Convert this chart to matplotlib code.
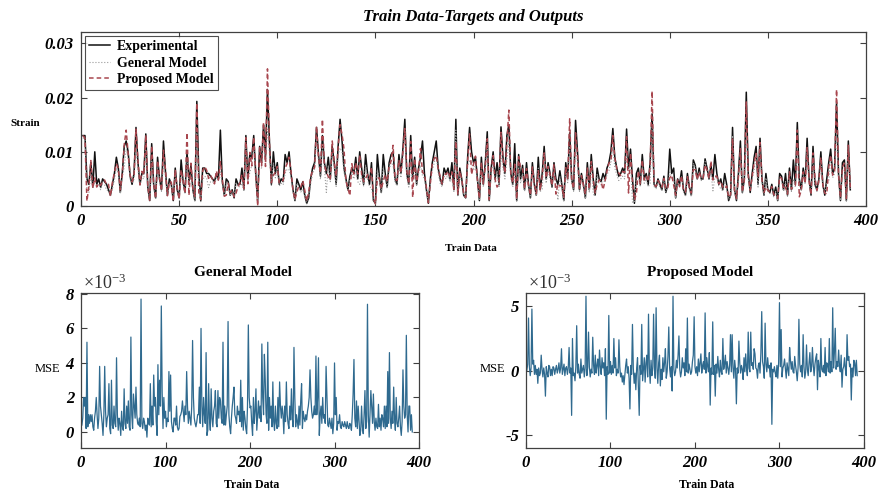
import numpy as np
import matplotlib
matplotlib.use('Agg')
import matplotlib.pyplot as plt

# strain values, in units of 1e-3 (one value per train sample)
experimental = [
    13, 13, 5, 4, 8, 3.5, 10, 4, 5, 3.5,
    5, 4.5, 4, 3, 2, 4, 6, 9, 7, 2.5,
    6, 11, 12, 10, 5.5, 4, 6, 14.5, 8, 4,
    6, 6, 13.3, 3.5, 1, 11.5, 4, 1.5, 9, 5,
    3, 12, 6.5, 2, 5, 4, 1, 7, 3, 1.5,
    8.5, 4.5, 2.5, 10, 4.5, 7.5, 3, 1, 19.3, 6,
    1, 7, 7, 6, 6, 5.5, 5, 4.5, 6, 5,
    14, 4.5, 2, 5, 4.5, 2, 3, 1.5, 5, 4,
    4, 7, 3, 13, 5, 9.5, 9, 13, 6, 1,
    11, 8, 15, 9, 21.5, 12, 4, 10, 6, 8,
    4, 5, 4.5, 9.5, 8, 10, 6, 3, 1, 5,
    4, 3, 4.5, 2, 0.5, 1.5, 5, 7, 8, 14.5,
    9.5, 5.5, 13, 8, 6, 9, 5, 11, 8, 4,
    11, 16, 12, 7, 5, 3, 5.5, 7, 6, 9,
    5, 10, 7, 4, 9.5, 6, 4, 8, 1, 0.5,
    9.5, 5.5, 2.5, 9.5, 6, 3.5, 8, 9.5, 10, 5,
    4, 9.5, 6, 10.5, 16, 6, 4, 13, 5, 9,
    4, 7, 9, 12, 6, 3, 0.5, 5, 8, 10,
    12, 7, 5, 4, 7, 6, 7, 5, 8, 3,
    16, 2, 7, 5, 2, 1.5, 9, 14.5, 10, 8,
    9, 5, 1, 9, 4, 8, 13.7, 1, 7, 10,
    5, 8, 4, 14.6, 9, 6, 13, 15, 6, 4,
    11.5, 1, 9.5, 5, 7.5, 3, 8, 4, 1.5, 8,
    4, 2, 9, 3, 6, 11, 5, 8, 6, 3.5,
    8, 5, 4, 6.5, 4, 1, 8, 5, 13.5, 5,
    3, 15.8, 10, 3, 6, 4, 1.5, 8, 3, 9.5,
    5, 2, 7, 5, 4.5, 6, 5, 7, 8, 10,
    14.3, 9, 7, 5.5, 6, 7, 6, 14.2, 7, 10.5,
    5, 0.5, 6, 7, 4, 9.5, 5, 6, 4, 8,
    17, 4, 3.5, 5, 4, 3, 5.5, 2.5, 4, 10.5,
    6, 7, 1.5, 5, 4, 6.5, 3, 2, 6, 3.5,
    2, 8.5, 7.5, 5, 7, 5, 5, 8.7, 7, 5,
    7.5, 5, 9.5, 6, 4, 5, 3, 6, 4, 1,
    2, 14.5, 3, 1, 6, 12, 2.5, 5, 21, 6,
    2.5, 6, 9, 11, 4, 12.5, 5, 2, 6, 3,
    2.5, 4, 2, 3.5, 1, 6, 5.5, 3, 6, 2,
    7, 3, 8.5, 4, 15.4, 5, 3, 7, 4.5, 12.5,
    5, 2, 11, 4, 3, 5, 10, 4, 2, 5,
    8, 10.5, 6, 7, 19.2, 6, 1, 8, 8.5, 1,
    12, 3,
]

# target minus output of the general model (1e-3)
general_err = [
    0.4, 0.8, 2, 1.5, 2, 0.2, 5.2, 0.3, 1, 0.5,
    1, 0.6, 1, 0.3, 0.1, 0.8, 1.2, 2, 1, 0.2,
    0.8, 3.8, 1.5, 1, 0.5, -0.2, 1, 3.8, 1.2, 0.3,
    0.8, 1, 2.8, 0.2, -0.1, 3, 0.4, 0.2, 1.5, 0.5,
    0.3, 4.3, 1, 0.1, 0.8, 0.5, -0.2, 1.2, 0.3, 0.1,
    2.5, 0.5, 0.2, 1.5, 0.5, 1.8, 0.3, 0.1, 5.5, 1,
    0.2, 2.2, 1.5, 0.8, 2.6, 1, 0.5, 0.4, 0.8, 0.3,
    7.7, 0.5, 0.2, 0.8, 0.6, 0.1, 0.4, -0.3, 0.8, 0.5,
    0.4, 2.8, 0.3, 1.5, 0.4, 3.3, 1.5, 2, 0.6, -0.2,
    3.9, 1, 3, 1.5, 7.3, 2.3, 0.2, 2, 0.8, 1.2,
    0.3, 0.8, 0.6, 3.5, 1.2, 3.3, 0.6, 0.2, 0, 0.8,
    0.8, 0.4, 1.5, 0.3, 0.1, 0.2, 0.9, 1, 1.2, 1.8,
    1.2, 0.6, 1.5, 1, 3.5, 1.5, 0.5, 1.2, 0.8, 0.4,
    1.5, 5.3, 2, 0.8, 0.5, 0.3, 0.6, 1, 1, 2.6,
    0.5, 6, 1.5, 0.3, 2, 1, 0.5, 4.6, -0.2, 0.1,
    2.8, 0.8, 0.1, 2.5, 0.8, 0.3, 1.2, 1.5, 2.4, 0.5,
    0.3, 2.4, 0.8, 2, 1.8, 0.8, 0.5, 5.2, 0.4, 1.5,
    0.4, 1, 1.5, 6.4, 1, 0.3, -0.1, 0.8, 1.5, 2,
    2.6, 1, 0.8, 0.5, 1.5, 1, 1.2, 0.6, 3, 0.3,
    2, 0.1, 1.2, 0.8, 0.2, -0.1, 1.5, 6.2, 2, 1.4,
    1.5, 0.5, -0.2, 2, 0.5, 1.2, 2.5, 0.1, 1, 1.8,
    0.8, 1.5, 0.6, 5.1, 2, 1, 4.5, 3, 1, 0.5,
    5.2, 0.1, 2, 0.8, 1.5, 0.3, 2.9, 0.6, 0.1, 1.5,
    0.5, 0.2, 2, 0.3, 2.9, 1.5, 0.8, 1.5, 1, -0.1,
    1.5, 0.6, 2.9, 1, 0.5, 0.2, 1.5, 0.7, 2.5, 0.8,
    0.3, 4.9, 2, 0.3, 1, 0.6, 0.2, 1.5, 0.4, 1.8,
    2.8, 0.2, 1.2, 0.8, 0.6, 1, 0.7, 1.2, 1.5, 2,
    3.6, 2, 1.2, 0.8, 1, 1.5, 1, 4.4, 1, 2,
    4.3, -0.2, 1, 1.5, 0.5, 2, 0.8, 1, 0.5, 3.8,
    2, 0.4, 0.3, 0.8, 0.5, 0.2, 0.8, -0.1, 0.5, 4,
    1, 2, 0.1, 0.6, 0.5, 1, 0.3, 0.2, 0.6, 0.4,
    0.3, 0.6, 0.4, 0.2, 0.6, 0.3, 0.2, 0.5, 0.4, 0.1,
    1, 2.2, 4.2, 0.8, 0.3, 1.8, 0.2, 1.5, 0.6, -0.2,
    0.1, 1.5, 0.3, -0.1, 1, 2.4, 0.2, 0.6, 7.4, 1,
    -0.3, 1, 2.4, 1.5, 0.5, 2.2, 0.6, 0.1, 0.8, 0.3,
    0.2, 1.6, 0.3, 0.8, 0.1, 1, 0.8, 0.3, 1.5, 0.2,
    1.5, 0.3, 3.5, 0.5, 4.6, 0.8, 0.2, 1.2, 0.5, 2.6,
    0.8, 0.1, 2, 0.5, 0.3, 0.8, 1.5, 0.3, -0.2, 0.6,
    3.6, 1.5, 0.8, 1, 5.6, 1, 0, 1.5, 1.5, 0.1,
    1, 0,
]

# target minus output of the proposed model (1e-3)
proposed_err = [
    0, 0.5, 4.1, 0.3, -0.4, 0.2, 4.8, 0.5, 0.8, -0.3,
    0.4, -0.3, 0.1, -1, 0.2, -0.4, -0.2, 1.2, 0.1, -0.5,
    0.2, -0.3, -2, 0.3, -0.2, -0.5, 0.4, 0.3, -0.4, 0.1,
    -0.4, 0.3, 0.2, -0.3, 0.1, 0.4, -0.2, 0.1, 0.6, -0.2,
    0.2, 1.7, -0.3, 0.1, 0.5, -0.4, 0.2, 0.3, -0.3, 0.2,
    1.8, -0.2, 0.2, -3.5, 2.5, -0.4, -0.2, -0.8, 0.3, 3.5,
    -0.2, 0.5, -0.3, -0.6, 0.9, -0.2, 0.1, 0.4, -0.5, 0.2,
    5.8, -0.4, 0.2, 3, 0.3, -0.5, 0.1, -0.2, 2.6, 0.4,
    -0.3, 1.2, -0.2, 0.4, 0.9, -0.4, 1.6, 0.3, -0.3, 1,
    0.2, 0.6, -0.4, 1.7, -3.8, 0.3, -0.3, 4.3, -0.2, 0.7,
    -0.3, 0.4, -0.2, 2.5, 0.2, 1, -0.4, 0.1, -0.2, 2.4,
    0.3, -0.5, -0.2, -0.9, -0.4, -1.1, -0.3, 0.4, 0.9, -0.2,
    0.3, -0.6, -3, 0.4, -0.3, 3.6, 0.2, -1, -0.2, -1.5,
    0.2, 1, -1.2, -3.5, 0.4, -0.3, 3.6, -0.8, 0.1, 1,
    -0.9, 0.6, 1.2, -0.5, 4.4, 0.2, -1, 0.8, -0.4, 0.1,
    4.4, 0.3, -0.6, 4.9, 0.2, -1, 0.6, 1.2, -1.2, 0.1,
    -0.7, 1, -0.1, 0.6, 1.7, -0.6, -0.1, 1.1, 3.4, 0.2,
    -0.5, 0.3, -1.6, 5.8, 0.1, -0.4, -0.1, 0.8, 0.2, 1.2,
    2.7, 0.1, -0.5, -0.1, 1, 0.2, 0.6, -0.4, 1.7, -0.1,
    4.1, -0.2, 0.5, 0.1, -0.3, -0.1, 0.7, 1.2, 4.2, 0.3,
    -0.2, 0.3, -0.4, 0.9, -0.1, 0.6, 1.3, -0.2, 0.4, 0.7,
    0.1, 4.5, -0.2, 1, 0.3, -0.1, 1.4, -2.7, 0.2, -0.3,
    3.8, -0.3, 0.4, -2, 0.5, -0.2, 1.1, 0.1, -0.5, 0.8,
    -0.1, -0.3, 2.5, 0.1, 0.5, 1.2, -0.2, 0.7, 0.2, -0.3,
    0.4, 2.8, -0.1, 2.8, 0.2, -0.6, 0.8, 0.1, -2.6, 0.2,
    -0.2, 2.3, 0.6, -0.2, 0.4, 0.1, -0.7, 1, -0.1, 1.3,
    0.2, -0.4, 3, 0.2, -0.1, 3, 0.4, 0.6, 0.1, 1.7,
    1.3, 0.2, 0.1, -0.6, 0.4, 0.6, -0.2, 1.4, 4.6, 0.7,
    0.3, -0.6, 3.7, 0.5, -0.1, 1, 0.2, 0.4, -0.5, 0.6,
    -4.2, 0.1, -0.1, 0.3, -0.2, -0.5, 0.4, -0.6, 0.6, 5.3,
    0.3, 3.2, -0.5, 0.2, 0.4, 0.9, 0.1, -0.6, 0.6, 0.1,
    -0.4, 1.8, 0.8, 0.1, 0.7, -0.1, -0.2, 1.1, 0.4, -0.1,
    -0.8, 0.2, 4, 0.5, -0.1, 0.4, -0.5, 2.8, 0.3, -0.6,
    -0.1, 2, 0.1, -0.4, 0.6, 1.4, -0.1, 0.3, 1.8, 0.4,
    -0.4, 0.5, 1, 1.3, -1.5, 0.8, 0.2, -0.5, 2.5, 0.1,
    -0.1, 0.4, -0.2, 1.8, -0.4, 0.6, 0.4, -0.1, 2.5, -0.2,
    0.7, -0.1, 4.9, 0.2, 1.4, 3.3, 0.1, 0.7, 0.3, 1.6,
    0.4, -0.1, 1.2, -1.3, 0.1, 0.3, 1, 0.1, -0.4, 2.8,
    0.8, 1.1, 0.3, 0.5, -2.3, 0.2, -0.5, 0.8, 0.6, -0.4,
    0.8, -0.4,
]

top_yticks = [0, 0.01, 0.02, 0.03]
top_yticklabels = ['0', '0.01', '0.02', '0.03']
top_xticks = [0, 50, 100, 150, 200, 250, 300, 350, 400]
mse_xticks = [0, 100, 200, 300, 400]
general_yticks = [0, 2, 4, 6, 8]
proposed_yticks = [-5, 0, 5]

SERIF = 'Liberation Serif'
plt.rcParams['font.family'] = SERIF
plt.rcParams['axes.unicode_minus'] = False
plt.rcParams['mathtext.fontset'] = 'custom'
plt.rcParams['mathtext.rm'] = SERIF
plt.rcParams['mathtext.it'] = SERIF + ':italic'

exp = np.array(experimental) * 1e-3
gen_e = np.array(general_err)
prop_e = np.array(proposed_err)
general = exp - gen_e * 1e-3
proposed = exp - prop_e * 1e-3
idx = np.arange(1, len(exp) + 1)


# matlab-ish box: ticks inside on all four sides
def style_axes(ax):
    for s in ax.spines.values():
        s.set_color('#404040')
        s.set_linewidth(0.9)
    ax.tick_params(direction='in', top=True, right=True, length=4,
                   width=0.8, color='#404040', labelsize=12, pad=5)
    for lab in ax.get_xticklabels() + ax.get_yticklabels():
        lab.set_fontstyle('italic')
        lab.set_fontweight('bold')


fig = plt.figure(figsize=(8.79, 4.95), dpi=100)

# top panel: targets and outputs
ax = fig.add_axes([0.0922, 0.5838, 0.893, 0.3515])
ax.plot(idx, exp, color='#111111', lw=1.1, label='Experimental')
ax.plot(idx, general, color='#9a9a9a', lw=0.8, ls=':', label='General Model')
ax.plot(idx, proposed, color='#a8464e', lw=1.1, ls='--', dashes=(3, 2), label='Proposed Model')
ax.set_xlim(0, 400)
ax.set_ylim(0, 0.0321)
ax.set_xticks(top_xticks)
ax.set_yticks(top_yticks)
ax.set_yticklabels(top_yticklabels)
style_axes(ax)
ax.set_title('Train Data-Targets and Outputs', fontsize=12, fontweight='bold',
             fontstyle='italic', pad=8)
ax.set_ylabel('Strain', rotation=0, fontsize=8, fontweight='bold')
ax.yaxis.set_label_coords(-0.071, 0.45)
ax.set_xlabel('Train Data', fontsize=8, fontweight='bold')
ax.xaxis.set_label_coords(0.496, -0.22)
leg = ax.legend(loc='upper left', prop={'weight': 'bold', 'size': 10},
                frameon=True, fancybox=False, borderpad=0.3, labelspacing=0.25,
                handlelength=1.5, handletextpad=0.5, borderaxespad=0.3)
leg.get_frame().set_edgecolor('#222222')
leg.get_frame().set_linewidth(0.8)


# bottom panels: errors
def error_panel(rect, err, title, yticks, ylim, title_x, xlabel_x):
    a = fig.add_axes(rect)
    a.plot(idx, err, color='#2f6a8f', lw=0.9)
    a.set_xlim(0, 400)
    a.set_ylim(*ylim)
    a.set_xticks(mse_xticks)
    a.set_yticks(yticks)
    style_axes(a)
    a.text(title_x, 1.13, title, transform=a.transAxes, ha='center', va='center',
           fontsize=11, fontweight='bold')
    a.text(0.005, 1.06, r'$\times\mathit{10}^{-3}$', transform=a.transAxes,
           ha='left', va='center', fontsize=13, color='#333333')
    a.set_ylabel('MSE', rotation=0, fontsize=9)
    a.yaxis.set_label_coords(-0.1, 0.47)
    a.set_xlabel('Train Data', fontsize=8.5, fontweight='bold')
    a.xaxis.set_label_coords(xlabel_x, -0.2)
    return a


error_panel([0.0922, 0.0949, 0.3845, 0.3131], gen_e, 'General Model',
            general_yticks, (-0.93, 8.05), 0.48, 0.505)
error_panel([0.5984, 0.0949, 0.3845, 0.3131], prop_e, 'Proposed Model',
            proposed_yticks, (-6.05, 6.05), 0.515, 0.535)

fig.savefig('out.png', dpi=100)
